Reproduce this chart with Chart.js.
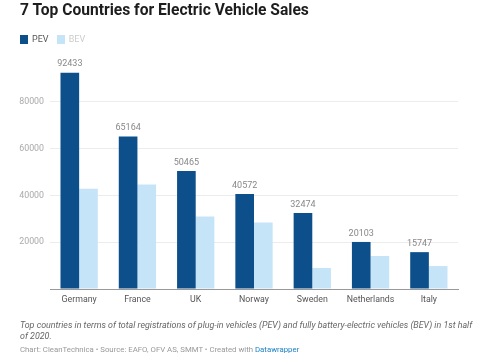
<!DOCTYPE html>
<html>
<head>
<meta charset="utf-8">
<script src="https://cdn.jsdelivr.net/npm/chart.js@4"></script>
<style>
  body { margin: 0; background: #fff; font-family: Roboto, sans-serif; }
  #wrap { position: relative; width: 480px; height: 361px; overflow: hidden; }
  canvas { position: absolute; left: 0; top: 0; }
  .titulo { position: absolute; left: 20px; top: 1px; font-size: 15.6px; font-weight: 700; color: #1d1d1d; white-space: nowrap; }
  .legenda { position: absolute; left: 20px; top: 34px; font-size: 9px; line-height: 11px; }
  .legenda span { display: inline-block; vertical-align: middle; }
  .caixa { width: 8px; height: 9px; margin-right: 4px; }
  .nota { position: absolute; left: 20px; top: 320px; width: 460px; font-size: 8.9px; line-height: 10.5px; font-style: italic; color: #666; }
  .creditos { position: absolute; left: 20px; top: 345px; font-size: 7.8px; color: #999; white-space: nowrap; }
  .creditos a { color: #1d81c4; text-decoration: none; }
</style>
</head>
<body>
<div id="wrap">
  <canvas id="grafico" width="480" height="361"></canvas>
  <div class="titulo">7 Top Countries for Electric Vehicle Sales</div>
  <div class="legenda">
    <span class="caixa" style="background:#0d4f8b"></span><span style="color:#555;margin-right:6px">PEV</span>
    <span class="caixa" style="background:#c6e4f8"></span><span style="color:#ccc">BEV</span>
  </div>
  <div class="nota">Top countries in terms of total registrations of plug-in vehicles (PEV) and fully battery-electric vehicles (BEV) in 1st half of 2020.</div>
  <div class="creditos">Chart: CleanTechnica • Source: EAFO, OFV AS, SMMT • Created with <a>Datawrapper</a></div>
</div>
<script>
// Dados do gráfico
const paises = ['Germany', 'France', 'UK', 'Norway', 'Sweden', 'Netherlands', 'Italy'];
const pev = [92433, 65164, 50465, 40572, 32474, 20103, 15747];
const bev = [42800, 44700, 31000, 28400, 9000, 14100, 9800];
const ticksY = [20000, 40000, 60000, 80000];

// Rótulos de valor em cima das barras PEV
const rotulosValor = {
    id: 'rotulosValor',
    afterDatasetsDraw(chart) {
        const ctx = chart.ctx;
        const meta = chart.getDatasetMeta(0);
        ctx.save();
        ctx.font = '9px Roboto';
        ctx.fillStyle = '#888';
        ctx.textAlign = 'center';
        ctx.textBaseline = 'bottom';
        meta.data.forEach((barra, i) => {
            ctx.fillText(String(pev[i]), barra.x, barra.y - 4);
        });
        ctx.restore();
    }
};

const ctx = document.getElementById('grafico').getContext('2d');
new Chart(ctx, {
    type: 'bar',
    data: {
        labels: paises,
        datasets: [
            { label: 'PEV', data: pev, backgroundColor: '#0d4f8b' },
            { label: 'BEV', data: bev, backgroundColor: '#c6e4f8' }
        ]
    },
    options: {
        responsive: false,
        animation: false,
        layout: { padding: { top: 55, right: 22, left: 0, bottom: 0 } },
        datasets: { bar: { categoryPercentage: 0.64, barPercentage: 1.0 } },
        plugins: {
            legend: { display: false },
            tooltip: { enabled: false }
        },
        scales: {
            x: {
                grid: { display: false, drawTicks: false },
                border: { display: true, color: '#999' },
                ticks: { color: '#555', font: { family: 'Roboto', size: 8.8 }, padding: 6 },
                afterFit(scale) { scale.height = 72; }
            },
            y: {
                min: 0,
                max: 100000,
                border: { display: false },
                grid: {
                    drawTicks: false,
                    color: c => ticksY.includes(c.tick.value) ? '#ececec' : 'rgba(0,0,0,0)'
                },
                ticks: {
                    stepSize: 20000,
                    padding: 6,
                    color: '#aaa',
                    font: { family: 'Roboto', size: 8.8 },
                    callback: v => ticksY.includes(v) ? String(v) : ''
                },
                afterFit(scale) { scale.width = 50; }
            }
        }
    },
    plugins: [rotulosValor]
});
</script>
</body>
</html>
